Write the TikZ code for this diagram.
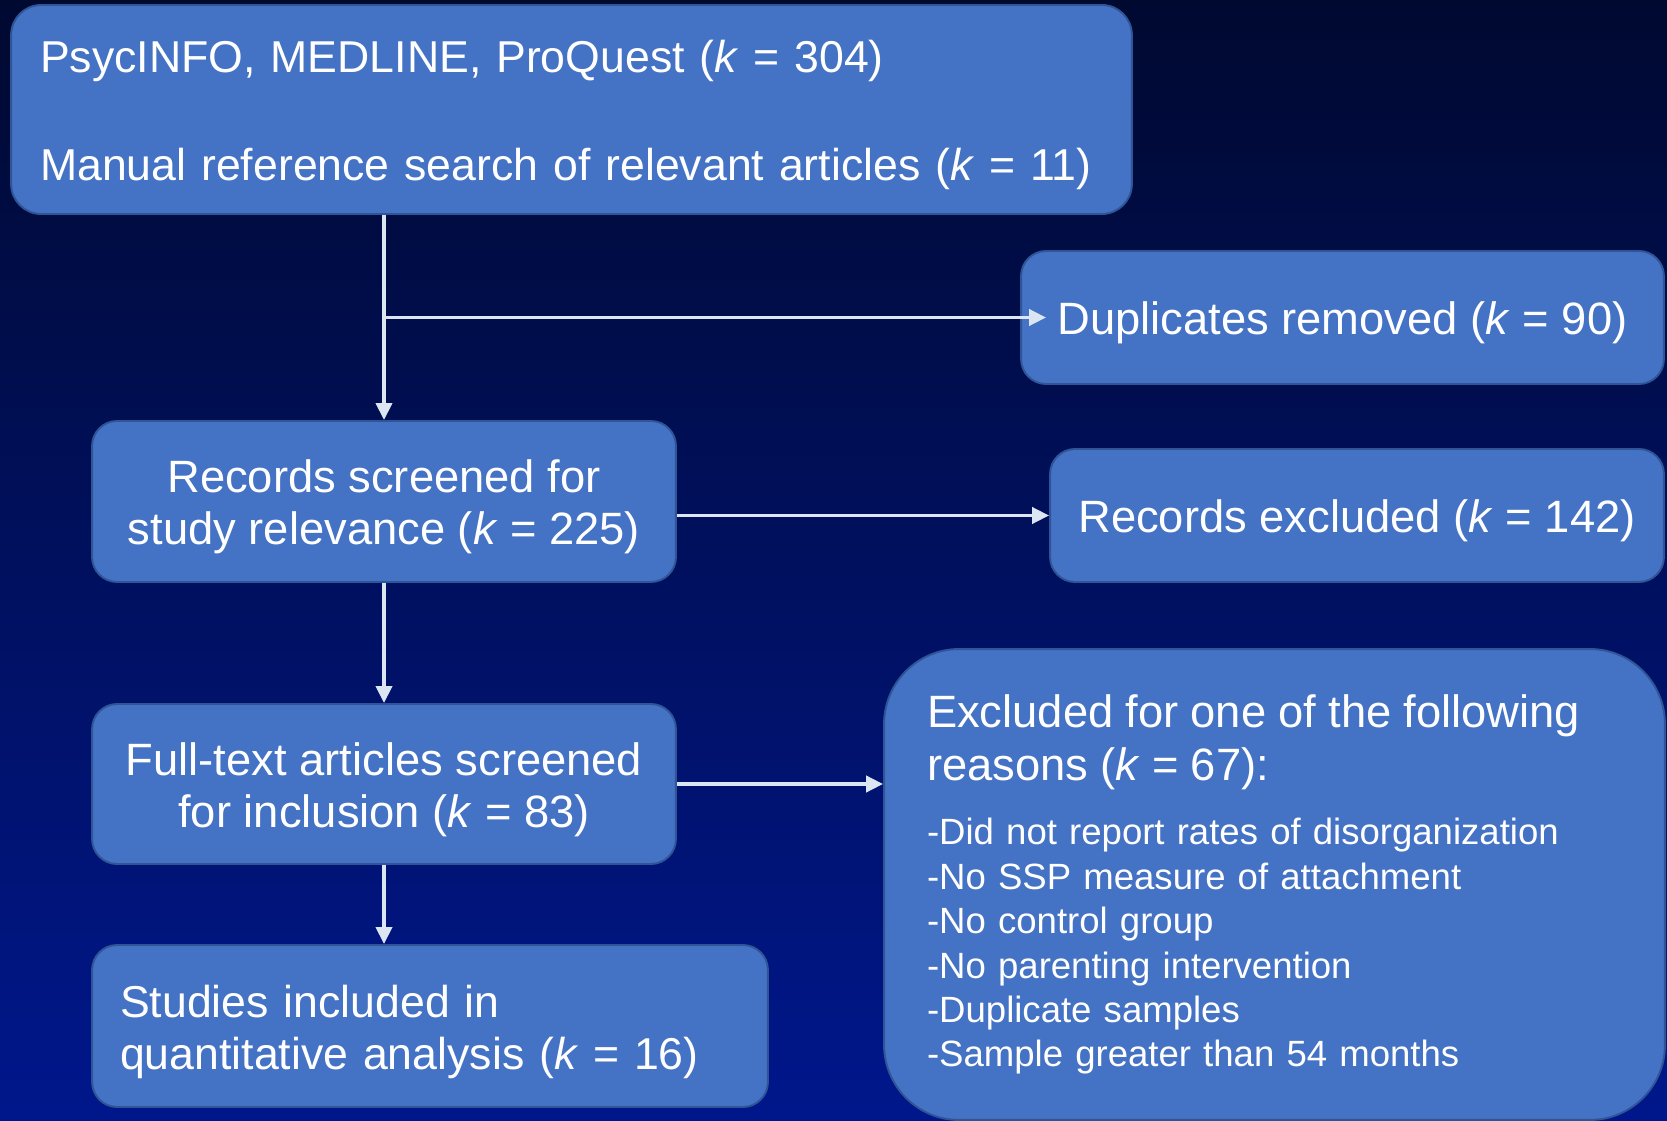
\documentclass[tikz,border=0pt]{standalone}
\usepackage{fontspec}
\setmainfont{Liberation Sans}
\usetikzlibrary{arrows.meta}

\definecolor{boxblue}{HTML}{4472C4}
\definecolor{boxline}{HTML}{2F5597}
\definecolor{arrowwhite}{HTML}{DCE6F2}
\definecolor{bgtop}{HTML}{000930}
\definecolor{bgmid}{HTML}{00137A}
\definecolor{bgbot}{HTML}{00178C}

\newcommand{\kk}{\textit{k}}
\newcommand{\lift}{\rule{0pt}{24.8pt}}

\tikzset{
  stagebox/.style={draw=boxline, line width=1.1pt, fill=boxblue, text=white,
    rounded corners=0.5cm, inner sep=0pt, font=\fontsize{25.8}{29.7}\selectfont},
  flow/.style={draw=arrowwhite, line width=2.2pt, -{Triangle[length=0.34cm,width=0.32cm]}}
}

\begin{document}
\begin{tikzpicture}[x=0.02cm, y=-0.02cm]
    \useasboundingbox (0,0) rectangle (1667,1121);
    % Background
    \shade[top color=bgtop, middle color=bgmid, bottom color=bgbot] (0,0) rectangle (1667,1121);
    % Search sources
    \node[stagebox, rounded corners=0.6cm, minimum width=22.42cm, minimum height=4.18cm,
      text width=21.26cm, inner xsep=0.58cm, align=left,
      font=\fontsize{25.4}{29.7}\selectfont] (src) at (571.5,109.5)
      {\lift\mbox{PsycINFO, MEDLINE, ProQuest (\kk{} = 304)}\\[32.1pt]
       \mbox{Manual reference search of relevant articles (\kk{} = 11)}};
    % Duplicates
    \node[stagebox, minimum width=12.86cm, minimum height=2.66cm] (dup) at (1342.5,317.5)
      {\lift Duplicates removed (\kk{} = 90)};
    % Screening
    \node[stagebox, minimum width=11.68cm, minimum height=3.22cm, align=center] (scr) at (384,501.5)
      {\lift Records screened for\\ study relevance (\kk{} = 225)};
    \node[stagebox, minimum width=12.28cm, minimum height=2.66cm] (exc1) at (1357,515.5)
      {\lift Records excluded (\kk{} = 142)};
    % Full text
    \node[stagebox, minimum width=11.68cm, minimum height=3.2cm, align=center] (full) at (384,784)
      {\lift Full-text articles screened\\ for inclusion (\kk{} = 83)};
    \node[stagebox, rounded corners=1.5cm, minimum width=15.62cm, minimum height=9.42cm,
      text width=13.9cm, inner xsep=0.86cm, align=left,
      font=\fontsize{20.8}{25.3}\selectfont] (exc2) at (1274.5,884.5)
      {\fontsize{25.8}{25.3}\selectfont Excluded for one of the following\\[4.7pt]
       reasons (\kk{} = 67):\\[11.5pt]
       \fontsize{20.8}{25.3}\selectfont -Did not report rates of disorganization\\
       -No SSP measure of attachment\\
       -No control group\\
       -No parenting intervention\\
       -Duplicate samples\\
       -Sample greater than 54 months};
    % Included
    \node[stagebox, minimum width=13.52cm, minimum height=3.24cm,
      text width=12.4cm, inner xsep=0.56cm, align=left,
      font=\fontsize{25.4}{29.7}\selectfont] (inc) at (430,1026)
      {\lift Studies included in\\ quantitative analysis (\kk{} = 16)};
    % Flow arrows
    \draw[flow] (scr.north |- src.south) -- (scr.north);
    \draw[flow] (scr.north |- dup.west) -- ([xshift=0.52cm]dup.west);
    \draw[flow] (scr.east |- exc1.west) -- (exc1.west);
    \draw[flow] (scr.south) -- (full.north);
    \draw[flow] (full.east) -- (full.east -| exc2.west);
    \draw[flow] (full.south) -- (full.south |- inc.north);
\end{tikzpicture}
\end{document}
